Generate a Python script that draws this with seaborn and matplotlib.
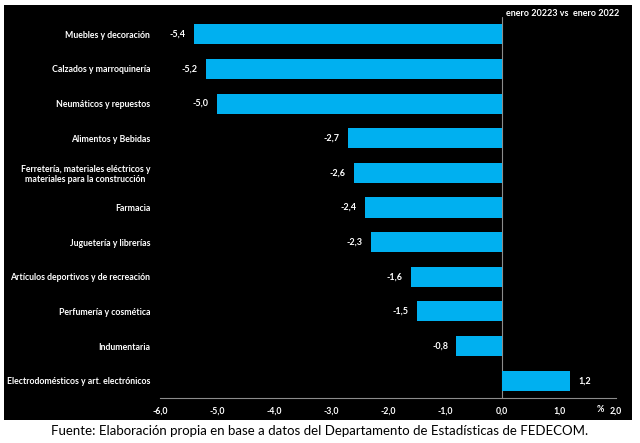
import matplotlib.pyplot as plt
import seaborn as sns
import pandas as pd
from matplotlib.patches import Rectangle

# datos
categorias = [
    "Muebles y decoración",
    "Calzados y marroquinería",
    "Neumáticos y repuestos",
    "Alimentos y Bebidas",
    "Ferretería, materiales eléctricos y\nmateriales para la construcción",
    "Farmacia",
    "Juguetería y librerías",
    "Artículos deportivos y de recreación",
    "Perfumería y cosmética",
    "Indumentaria",
    "Electrodomésticos y art. electrónicos",
]
variacion = [-5.4, -5.2, -5.0, -2.7, -2.6, -2.4, -2.3, -1.6, -1.5, -0.8, 1.2]
ticks_x = [-6.0, -5.0, -4.0, -3.0, -2.0, -1.0, 0.0, 1.0, 2.0]

df = pd.DataFrame({"rubro": categorias, "var": variacion})

sns.set_style("white")
plt.rcParams["font.family"] = ["Lato", "DejaVu Sans"]

fig = plt.figure(figsize=(6.4, 4.43), dpi=100, facecolor="white")
# panel negro detrás de todo
fig.patches.append(Rectangle((4 / 640, 1 - 420 / 443), 628 / 640, 415 / 443,
                             transform=fig.transFigure, facecolor="black",
                             edgecolor="none", zorder=-10))
ax = fig.add_axes([160 / 640, 1 - 398 / 443, 456 / 640, 381 / 443])
ax.set_facecolor("black")

sns.barplot(data=df, y="rubro", x="var", orient="h", color="#00B0F0",
            saturation=1, width=0.58, linewidth=0, ax=ax)

ax.set_xlim(-6, 2)
ax.set_ylim(10.5, -0.5)
ax.set_xticks(ticks_x)
ax.set_xticklabels([f"{t:.1f}".replace(".", ",") for t in ticks_x])
ax.set_xlabel("")
ax.set_ylabel("")
ax.tick_params(axis="both", length=0, colors="white", labelsize=6.3)
ax.tick_params(axis="y", pad=7)
ax.tick_params(axis="x", pad=6)
for lbl in ax.get_yticklabels() + ax.get_xticklabels():
    lbl.set_fontweight("bold")
    lbl.set_color("white")
for lbl in ax.get_yticklabels():
    lbl.set_multialignment("center")

for s in ["top", "right", "left"]:
    ax.spines[s].set_visible(False)
ax.spines["bottom"].set_color("#8c8c8c")
ax.spines["bottom"].set_linewidth(0.8)
ax.axvline(0, color="#8c8c8c", lw=0.8, zorder=0)

# etiquetas de valores
for i, v in enumerate(variacion):
    txt = f"{v:.1f}".replace(".", ",")
    if v < 0:
        ax.annotate(txt, (v, i), xytext=(-6, 0), textcoords="offset points",
                    ha="right", va="center", color="white", fontsize=6.5,
                    fontweight="bold")
    else:
        ax.annotate(txt, (v, i), xytext=(6, 0), textcoords="offset points",
                    ha="left", va="center", color="white", fontsize=6.5,
                    fontweight="bold")

fig.text(600 / 640, 1 - 410 / 443, "%", color="white", fontsize=6.5,
         fontweight="bold", ha="center", va="center")
fig.text(506 / 640, 1 - 14 / 443, "enero 20223 vs  enero 2022", color="white",
         fontsize=6.5, fontweight="bold", ha="left", va="center")
fig.text(0.5, 1 - 431 / 443,
         "Fuente: Elaboración propia en base a datos del Departamento de Estadísticas de FEDECOM.",
         color="black", fontsize=9.5, ha="center", va="center")

fig.savefig("out.png", dpi=100, facecolor="white")
